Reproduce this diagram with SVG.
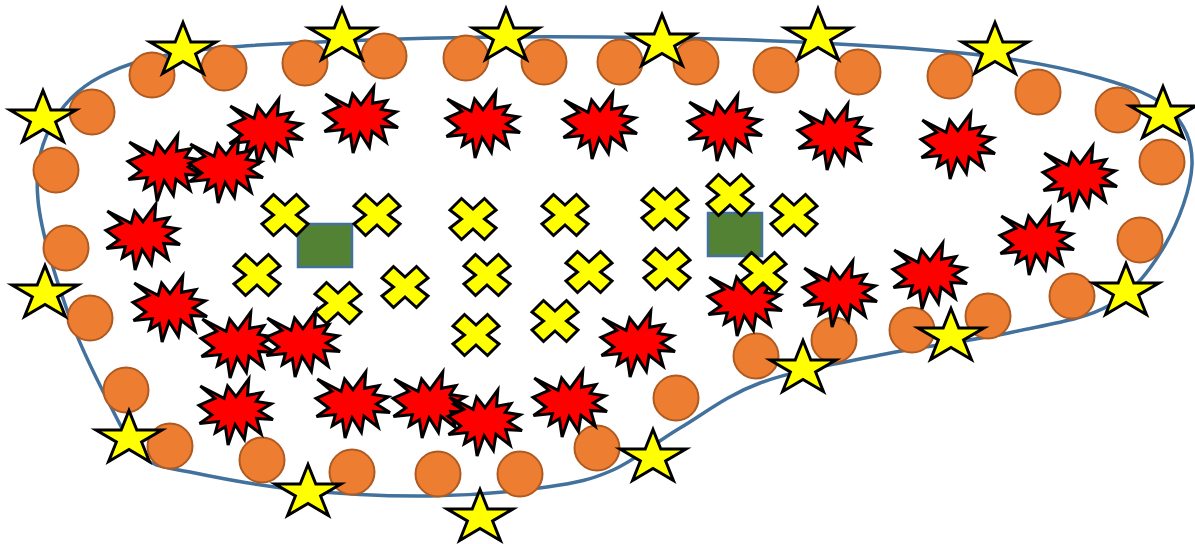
<svg xmlns="http://www.w3.org/2000/svg" xmlns:xlink="http://www.w3.org/1999/xlink" width="1195" height="544" viewBox="0 0 1195 544">
<style>
.outline{fill:none;stroke:#41719C;stroke-width:3.5}
.dot{fill:#ED7D31;stroke:#AE5A21;stroke-width:2}
.star{fill:#FFFF00;stroke:#000;stroke-width:3}
.exp{fill:#FF0000;stroke:#000;stroke-width:3}
.x{fill:#FFFF00;stroke:#000;stroke-width:3}
.box{fill:#548235;stroke:#41719C;stroke-width:2.5}
</style>
<defs>
<path id="starShape" d="M0,-25.5 L7.8,-6 L33,-6 L12.6,6 L20.4,25.5 L0,13.5 L-20.4,25.5 L-12.6,6 L-33,-6 L-7.8,-6 Z"/>
<path id="expShape" d="M37,17.7 L49.8,0 L48.5,16.3 L63,13.6 L57.2,22.4 L72.3,24.9 L60.3,32 L74,40.6 L57.7,39.5 L62.2,55.3 L48,44.2 L45.4,60.3 L36.1,45.6 L29.1,66 L26.4,47.7 L16.3,53.8 L19.4,42.6 L0.5,44.6 L12.8,36 L0,26.3 L15.9,19.3 L1.3,7 L25.1,19.3 L28.6,7 Z"/>
<path id="xShape" d="M-11.5,-20.5 L0,-10 L11.5,-20.5 L23,-9 L11.5,0 L23,9 L11.5,20.5 L0,10 L-11.5,20.5 L-23,9 L-11.5,0 L-23,-9 Z"/>
</defs>
<rect width="1195" height="544" fill="#fff"/>
<g id="outline">
<path class="outline" d="M38,200 C35.2,169.7 39.7,148.5 50,128 C60.3,107.5 75,90 100,77 C125,64 150,56.3 200,50 C250,43.7 333.3,41.2 400,39 C466.7,36.8 533.3,36.5 600,37 C666.7,37.5 736.7,39 800,42 C863.3,45 930,49 980,55 C1030,61 1068.3,68.8 1100,78 C1131.7,87.2 1154.7,95.5 1170,110 C1185.3,124.5 1192.8,142.5 1192,165 C1191.2,187.5 1178.7,221.7 1165,245 C1151.3,268.3 1135.3,290.5 1110,305 C1084.7,319.5 1051.3,323.7 1013,332 C974.7,340.3 922.2,346.5 880,355 C837.8,363.5 793.3,370.8 760,383 C726.7,395.2 704.5,413.5 680,428 C655.5,442.5 635.2,460.2 613,470 C590.8,479.8 577.5,482.7 547,487 C516.5,491.3 471.2,495.5 430,496 C388.8,496.5 340,494 300,490 C260,486 216.2,477.5 190,472 C163.8,466.5 156.3,468.2 143,457 C129.7,445.8 122.7,429.5 110,405 C97.3,380.5 79,344.2 67,310 C55,275.8 40.8,230.3 38,200 Z"/>
</g>
<g id="boxes">
<rect id="box1" class="box" x="298" y="224" width="54" height="43"/>
<rect id="box2" class="box" x="708" y="213" width="54" height="43"/>
</g>
<g id="dots">
<circle class="dot" cx="152" cy="75" r="22.5"/>
<circle class="dot" cx="224" cy="68" r="22.5"/>
<circle class="dot" cx="305" cy="63" r="22.5"/>
<circle class="dot" cx="384" cy="56" r="22.5"/>
<circle class="dot" cx="466" cy="58" r="22.5"/>
<circle class="dot" cx="544" cy="62" r="22.5"/>
<circle class="dot" cx="620" cy="62" r="22.5"/>
<circle class="dot" cx="696" cy="62" r="22.5"/>
<circle class="dot" cx="776" cy="70" r="22.5"/>
<circle class="dot" cx="858" cy="72" r="22.5"/>
<circle class="dot" cx="950" cy="76" r="22.5"/>
<circle class="dot" cx="1038" cy="92" r="22.5"/>
<circle class="dot" cx="1118" cy="110" r="22.5"/>
<circle class="dot" cx="1162" cy="162" r="22.5"/>
<circle class="dot" cx="1140" cy="240" r="22.5"/>
<circle class="dot" cx="1072" cy="296" r="22.5"/>
<circle class="dot" cx="988" cy="316" r="22.5"/>
<circle class="dot" cx="912" cy="330" r="22.5"/>
<circle class="dot" cx="834" cy="340" r="22.5"/>
<circle class="dot" cx="756" cy="356" r="22.5"/>
<circle class="dot" cx="676" cy="398" r="22.5"/>
<circle class="dot" cx="597" cy="448" r="22.5"/>
<circle class="dot" cx="520" cy="474" r="22.5"/>
<circle class="dot" cx="438" cy="474" r="22.5"/>
<circle class="dot" cx="352" cy="472" r="22.5"/>
<circle class="dot" cx="262" cy="460" r="22.5"/>
<circle class="dot" cx="170" cy="446" r="22.5"/>
<circle class="dot" cx="126" cy="390" r="22.5"/>
<circle class="dot" cx="90" cy="318" r="22.5"/>
<circle class="dot" cx="66" cy="248" r="22.5"/>
<circle class="dot" cx="56" cy="170" r="22.5"/>
<circle class="dot" cx="92" cy="112" r="22.5"/>
</g>
<g id="explosions">
<use href="#expShape" class="exp" x="229" y="99"/>
<use href="#expShape" class="exp" x="324" y="87"/>
<use href="#expShape" class="exp" x="446" y="92"/>
<use href="#expShape" class="exp" x="563" y="93"/>
<use href="#expShape" class="exp" x="688" y="95"/>
<use href="#expShape" class="exp" x="798" y="104"/>
<use href="#expShape" class="exp" x="921" y="113"/>
<use href="#expShape" class="exp" x="1043" y="146"/>
<use href="#expShape" class="exp" x="128" y="135"/>
<use href="#expShape" class="exp" x="189" y="137"/>
<use href="#expShape" class="exp" x="106" y="204"/>
<use href="#expShape" class="exp" x="1000" y="209"/>
<use href="#expShape" class="exp" x="893" y="243"/>
<use href="#expShape" class="exp" x="803" y="261"/>
<use href="#expShape" class="exp" x="708" y="270"/>
<use href="#expShape" class="exp" x="133" y="276"/>
<use href="#expShape" class="exp" x="201" y="312"/>
<use href="#expShape" class="exp" x="266" y="311"/>
<use href="#expShape" class="exp" x="601" y="311"/>
<use href="#expShape" class="exp" x="199" y="379"/>
<use href="#expShape" class="exp" x="316" y="372"/>
<use href="#expShape" class="exp" x="393" y="372"/>
<use href="#expShape" class="exp" x="448" y="390"/>
<use href="#expShape" class="exp" x="533" y="371"/>
</g>
<g id="crosses">
<use href="#xShape" class="x" x="285" y="215"/>
<use href="#xShape" class="x" x="377" y="215"/>
<use href="#xShape" class="x" x="473" y="219"/>
<use href="#xShape" class="x" x="565" y="215"/>
<use href="#xShape" class="x" x="665" y="209"/>
<use href="#xShape" class="x" x="730" y="195"/>
<use href="#xShape" class="x" x="794" y="215"/>
<use href="#xShape" class="x" x="257" y="275"/>
<use href="#xShape" class="x" x="338" y="303"/>
<use href="#xShape" class="x" x="405" y="287"/>
<use href="#xShape" class="x" x="487" y="275"/>
<use href="#xShape" class="x" x="589" y="272"/>
<use href="#xShape" class="x" x="667" y="269"/>
<use href="#xShape" class="x" x="763" y="273"/>
<use href="#xShape" class="x" x="476" y="335"/>
<use href="#xShape" class="x" x="555" y="321"/>
</g>
<g id="stars">
<use href="#starShape" class="star" x="183" y="48"/>
<use href="#starShape" class="star" x="342" y="34"/>
<use href="#starShape" class="star" x="506" y="34"/>
<use href="#starShape" class="star" x="662" y="40"/>
<use href="#starShape" class="star" x="818" y="34"/>
<use href="#starShape" class="star" x="995" y="48"/>
<use href="#starShape" class="star" x="1163" y="112"/>
<use href="#starShape" class="star" x="1126" y="289"/>
<use href="#starShape" class="star" x="951" y="334"/>
<use href="#starShape" class="star" x="803" y="366"/>
<use href="#starShape" class="star" x="653" y="455"/>
<use href="#starShape" class="star" x="480" y="515"/>
<use href="#starShape" class="star" x="308" y="490"/>
<use href="#starShape" class="star" x="129" y="436"/>
<use href="#starShape" class="star" x="45" y="291"/>
<use href="#starShape" class="star" x="43" y="116"/>
</g>
</svg>
